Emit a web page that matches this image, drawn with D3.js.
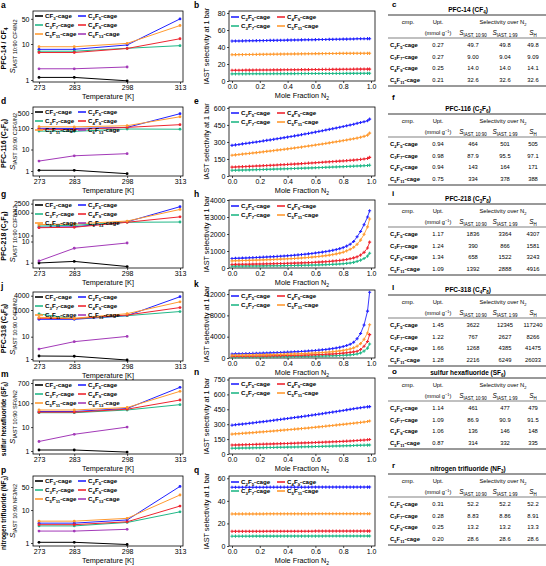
<!DOCTYPE html>
<html><head><meta charset="utf-8">
<script src="https://cdn.jsdelivr.net/npm/d3@7"></script>
<style>body{margin:0;background:#fff}svg{display:block}</style>
</head><body><svg id="c" width="546" height="566"></svg>
<script>
// ---------------- DATA ----------------
const temps = [273, 283, 298, 313];
const cageNames = ["CF_{3}-cage","C_{2}F_{5}-cage","C_{3}F_{7}-cage","C_{4}F_{9}-cage","C_{5}F_{11}-cage","C_{6}F_{13}-cage"];
const cageColors = ["#000000","#2222ff","#22b888","#ee2630","#ff9a30","#a33ab8"];

// temperature-dependent selectivity (order: CF3, C2F5, C3F7, C4F9, C5F11, C6F13)
const pfc14_CF3 = [1.18, 1.18, 0.95];
const pfc14_C2F5 = [7.1, 7.1, 9.4, 49.7];
const pfc14_C3F7 = [6.3, 6.3, 7.6, 9.00];
const pfc14_C4F9 = [5.8, 5.8, 7.5, 14.0];
const pfc14_C5F11 = [8.4, 8.4, 10.4, 32.6];
const pfc14_C6F13 = [2.05, 2.05, 2.3];

const pfc116_CF3 = [1.08, 1.08, 0.75];
const pfc116_C2F5 = [97, 95, 107, 464];
const pfc116_C3F7 = [72, 70, 90, 87.9];
const pfc116_C4F9 = [87, 85, 107, 143];
const pfc116_C5F11 = [115, 113, 128, 334];
const pfc116_C6F13 = [2.9, 5.1, 6.4];

const pfc218_CF3 = [0.97, 1.15, 0.66];
const pfc218_C2F5 = [230, 240, 400, 1836];
const pfc218_C3F7 = [260, 280, 380, 390];
const pfc218_C4F9 = [220, 230, 380, 658];
const pfc218_C5F11 = [300, 320, 430, 1392];
const pfc218_C6F13 = [1.2, 4.8, 8.5];

const pfc318_CF3 = [1.36, 1.33, 0.9];
const pfc318_C2F5 = [200, 200, 375, 3622];
const pfc318_C3F7 = [500, 220, 375, 767];
const pfc318_C4F9 = [240, 225, 420, 1268];
const pfc318_C5F11 = [283, 240, 530, 2216];
const pfc318_C6F13 = [2.8, 6.0, 10.5];

const sf6_CF3 = [1.1, 1.1, 0.9];
const sf6_C2F5 = [45, 45, 60, 461];
const sf6_C3F7 = [40, 40, 52, 86.9];
const sf6_C4F9 = [42, 42, 56, 136];
const sf6_C5F11 = [52, 52, 66, 314];
const sf6_C6F13 = [2.5, 5.0, 10.0];

const nf3_CF3 = [1.05, 1.05, 0.9];
const nf3_C2F5 = [4.0, 4.0, 5.0, 52.2];
const nf3_C3F7 = [3.3, 3.3, 4.2, 8.83];
const nf3_C4F9 = [3.6, 3.6, 4.4, 13.2];
const nf3_C5F11 = [4.6, 4.6, 5.6, 28.6];
const nf3_C6F13 = [2.3, 2.3, 2.6];

// IAST selectivity vs mole fraction N2 (order: C2F5, C3F7, C4F9, C5F11)
const moleFractionN2 = [0,0.025,0.05,0.075,0.1,0.125,0.15,0.175,0.2,0.225,
  0.25,0.275,0.3,0.325,0.35,0.375,0.4,0.425,0.45,0.475,
  0.5,0.525,0.55,0.575,0.6,0.625,0.65,0.675,0.7,0.725,
  0.75,0.775,0.8,0.825,0.85,0.875,0.9,0.925,0.95,0.975,0.99];

const iast14_C2F5 = [47.0,47.1,47.1,47.2,47.3,47.4,47.4,47.5,47.6,47.6,
  47.7,47.8,47.8,47.9,48.0,48.0,48.1,48.2,48.3,48.3,
  48.4,48.5,48.5,48.6,48.7,48.8,48.8,48.9,49.0,49.0,
  49.1,49.2,49.3,49.3,49.4,49.5,49.7,49.7,49.7,49.8,49.8];
const iast14_C3F7 = [8.40,8.42,8.43,8.45,8.47,8.48,8.50,8.52,8.53,8.55,
  8.57,8.58,8.60,8.62,8.63,8.65,8.67,8.68,8.70,8.72,
  8.73,8.75,8.77,8.78,8.80,8.82,8.83,8.85,8.87,8.88,
  8.90,8.92,8.93,8.95,8.97,8.98,9.00,9.01,9.02,9.03,9.04];
const iast14_C4F9 = [12.6,12.6,12.7,12.7,12.8,12.8,12.8,12.9,12.9,12.9,
  13.0,13.0,13.1,13.1,13.1,13.2,13.2,13.2,13.3,13.3,
  13.4,13.4,13.4,13.5,13.5,13.5,13.6,13.6,13.6,13.7,
  13.7,13.7,13.8,13.8,13.8,13.9,14.0,14.0,14.0,14.0,14.0];
const iast14_C5F11 = [31.0,31.0,31.1,31.1,31.2,31.2,31.3,31.3,31.4,31.4,
  31.5,31.5,31.6,31.6,31.7,31.7,31.8,31.8,31.9,31.9,
  32.0,32.0,32.1,32.1,32.2,32.2,32.3,32.3,32.4,32.4,
  32.4,32.5,32.5,32.5,32.6,32.6,32.6,32.6,32.6,32.6,32.6];

const iast116_C2F5 = [270,274,278,283,287,291,296,300,304,309,
  314,318,323,328,333,338,343,348,353,358,
  364,370,375,381,387,393,399,405,411,417,
  423,430,436,443,449,456,464,471,478,487,501];
const iast116_C3F7 = [50.0,50.8,51.6,52.4,53.2,54.1,54.9,55.8,56.7,57.6,
  58.5,59.5,60.4,61.4,62.3,63.3,64.3,65.4,66.4,67.5,
  68.5,69.6,70.7,71.8,72.9,74.1,75.3,76.5,77.6,78.9,
  80.1,81.4,82.6,83.9,85.3,86.6,87.9,89.3,90.8,92.6,95.5];
const iast116_C4F9 = [78,79,81,82,83,85,86,88,89,91,
  92,94,95,97,99,100,102,104,105,107,
  109,111,113,115,117,119,121,123,125,127,
  129,131,133,135,138,140,143,146,150,155,164];
const iast116_C5F11 = [183,186,189,193,196,199,203,206,209,213,
  217,220,224,228,231,235,239,243,247,251,
  255,260,264,268,273,278,282,287,292,297,
  302,307,312,317,323,328,334,341,349,360,378];

const iast218_C2F5 = [560,567,575,582,590,598,607,616,625,636,
  647,658,670,682,694,707,720,736,752,770,
  790,810,832,855,880,907,935,965,1000,1040,
  1085,1140,1200,1290,1400,1560,1836,2150,2550,3000,3364];
const iast218_C3F7 = [110,111,113,114,116,117,119,121,123,125,
  127,129,132,134,137,140,143,146,149,153,
  157,161,166,171,176,182,189,196,204,214,
  225,238,253,272,296,330,390,460,560,700,866];
const iast218_C4F9 = [210,213,216,219,222,225,229,233,237,241,
  245,249,254,259,264,269,275,281,287,294,
  301,309,317,326,336,347,359,372,387,404,
  423,445,470,503,545,595,658,760,920,1180,1522];
const iast218_C5F11 = [420,425,431,437,443,449,456,463,470,478,
  486,494,503,512,521,531,541,552,564,577,
  591,606,622,640,659,680,703,728,756,790,
  830,875,930,1010,1100,1220,1392,1640,1980,2420,2888];

const iast318_C2F5 = [760,775,790,806,822,839,857,876,896,917,
  939,962,986,1011,1037,1064,1093,1123,1155,1190,
  1228,1268,1311,1358,1410,1467,1530,1600,1680,1770,
  1875,2000,2150,2340,2580,2950,3622,4600,6200,8800,12345];
const iast318_C3F7 = [170,174,178,182,186,190,195,200,205,210,
  216,222,228,234,241,248,256,264,273,282,
  292,303,314,326,339,353,368,385,404,425,
  449,476,507,543,585,650,767,950,1300,1850,2627];
const iast318_C4F9 = [320,327,334,341,348,356,364,373,382,391,
  401,411,422,433,445,457,470,484,499,515,
  532,550,570,591,614,639,666,696,729,766,
  808,856,912,980,1060,1150,1268,1600,2200,3100,4385];
const iast318_C5F11 = [500,510,520,531,542,553,565,578,591,605,
  620,635,651,668,686,705,725,746,769,793,
  819,847,877,910,946,985,1028,1075,1127,1186,
  1255,1335,1430,1550,1700,1900,2216,2700,3500,4700,6249];

const iastSF6_C2F5 = [290,294,298,301,305,309,313,318,322,326,
  330,335,339,344,348,353,357,362,367,371,
  376,381,386,391,396,401,406,412,417,422,
  427,433,438,444,449,455,461,466,471,475,477];
const iastSF6_C3F7 = [58.0,58.6,59.3,59.9,60.5,61.2,61.9,62.5,63.2,63.9,
  64.6,65.3,66.0,66.7,67.5,68.2,69.0,69.7,70.5,71.3,
  72.0,72.8,73.6,74.4,75.2,76.1,76.9,77.8,78.7,79.6,
  80.5,81.4,82.3,83.2,84.1,85.5,86.9,87.9,88.9,89.9,90.9];
const iastSF6_C4F9 = [90,91,92,93,94,95,96,97,98,99,
  100,101,102,103,104,105,106,107,108,110,
  111,112,113,114,116,117,118,120,121,123,
  124,126,127,129,131,133,136,138,140,143,146];
const iastSF6_C5F11 = [200,203,205,208,210,213,215,218,221,223,
  226,229,232,235,238,241,244,247,250,253,
  256,259,262,266,269,273,276,280,284,287,
  291,295,298,302,306,310,314,318,322,327,332];

const iastNF3_C2F5 = [52.0,52.0,52.0,52.0,52.0,52.0,52.0,52.0,52.0,52.0,
  52.1,52.1,52.1,52.1,52.1,52.1,52.1,52.1,52.1,52.1,
  52.1,52.1,52.1,52.2,52.2,52.2,52.2,52.2,52.2,52.2,
  52.2,52.2,52.2,52.2,52.2,52.2,52.2,52.2,52.2,52.2,52.2];
const iastNF3_C3F7 = [8.70,8.70,8.71,8.71,8.72,8.72,8.73,8.73,8.74,8.74,
  8.75,8.75,8.76,8.76,8.77,8.77,8.78,8.78,8.79,8.79,
  8.79,8.80,8.80,8.80,8.81,8.81,8.81,8.82,8.82,8.82,
  8.83,8.83,8.83,8.83,8.83,8.83,8.83,8.84,8.85,8.85,8.86];
const iastNF3_C4F9 = [13.0,13.0,13.0,13.0,13.0,13.0,13.0,13.0,13.0,13.0,
  13.1,13.1,13.1,13.1,13.1,13.1,13.1,13.1,13.1,13.1,
  13.1,13.1,13.1,13.1,13.2,13.2,13.2,13.2,13.2,13.2,
  13.2,13.2,13.2,13.2,13.2,13.2,13.2,13.2,13.2,13.2,13.2];
const iastNF3_C5F11 = [28.4,28.4,28.4,28.4,28.4,28.4,28.4,28.4,28.4,28.4,
  28.5,28.5,28.5,28.5,28.5,28.5,28.5,28.5,28.5,28.5,
  28.5,28.5,28.5,28.5,28.6,28.6,28.6,28.6,28.6,28.6,
  28.6,28.6,28.6,28.6,28.6,28.6,28.6,28.6,28.6,28.6,28.6];

// tables
const tableCages = ["C_{2}F_{5}-cage","C_{3}F_{7}-cage","C_{4}F_{9}-cage","C_{5}F_{11}-cage"];
const tblPFC14 = {upt:["0.27","0.27","0.25","0.21"], s1090:["49.7","9.00","14.0","32.6"], s199:["49.8","9.04","14.0","32.6"], sh:["49.8","9.09","14.1","32.6"]};
const tblPFC116 = {upt:["0.94","0.98","0.94","0.75"], s1090:["464","87.9","143","334"], s199:["501","95.5","164","378"], sh:["505","97.1","171","388"]};
const tblPFC218 = {upt:["1.17","1.24","1.34","1.09"], s1090:["1836","390","658","1392"], s199:["3364","866","1522","2888"], sh:["4307","1581","3243","4916"]};
const tblPFC318 = {upt:["1.45","1.22","1.66","1.28"], s1090:["3622","767","1268","2216"], s199:["12345","2627","4385","6249"], sh:["117240","8266","41475","26033"]};
const tblSF6 = {upt:["1.14","1.09","1.06","0.87"], s1090:["461","86.9","136","314"], s199:["477","90.9","146","332"], sh:["479","91.5","148","335"]};
const tblNF3 = {upt:["0.31","0.28","0.25","0.20"], s1090:["52.2","8.83","13.2","28.6"], s199:["52.2","8.86","13.2","28.6"], sh:["52.2","8.91","13.3","28.6"]};

// ---------------- DRAW ----------------
const FONT = "'Liberation Sans', Arial, Helvetica, sans-serif";
const svg = d3.select("#c").attr("font-family", FONT);

function rich(sel, str, fs) {
  const parts = str.split(/(_\{[^}]*\}|\^\{[^}]*\}|\*[^*]*\*)/).filter(s => s !== "");
  let shift = 0;
  parts.forEach(p => {
    let t = p, d = 0, size = fs, ital = false;
    if (p.startsWith("_{")) { t = p.slice(2, -1); d = fs * 0.3; size = fs * 0.7; }
    else if (p.startsWith("^{")) { t = p.slice(2, -1); d = -fs * 0.38; size = fs * 0.7; }
    else if (p.startsWith("*")) { t = p.slice(1, -1); ital = true; }
    const ts = sel.append("tspan").attr("dy", (d - shift).toFixed(2)).attr("font-size", size).text(t);
    if (ital) ts.attr("font-style", "italic");
    shift = d;
  });
  return sel;
}
function txt(x, y, str, fs, opts = {}) {
  const t = svg.append("text").attr("x", x).attr("y", y)
    .attr("text-anchor", opts.anchor || "start")
    .attr("font-weight", opts.bold ? "bold" : "normal")
    .attr("fill", opts.fill || "#000");
  if (opts.rotate) t.attr("transform", `rotate(-90,${x},${y})`);
  return rich(t, str, fs);
}

function styleAxis(g, fs) {
  g.select(".domain").remove();
  g.selectAll("line").attr("stroke", "#000").attr("stroke-width", 0.7);
  g.selectAll("text").attr("font-size", fs).attr("font-family", FONT).attr("fill", "#000");
}

// ---------- left panels ----------
const leftPanels = [
  {letter:"a", top:11, bottom:82, t1:"PFC-14 / CF_{4}", t1s:7, t2:"IAST 10:90 CF4/N2", yDom:[1,10], yRng:[80,44], ticks:[1,10,50],
   series:[pfc14_CF3,pfc14_C2F5,pfc14_C3F7,pfc14_C4F9,pfc14_C5F11,pfc14_C6F13]},
  {letter:"d", top:107, bottom:176, t1:"PFC-116 (C_{2}F_{6})", t1s:7, t2:"IAST 10:90 C2F6/N2", yDom:[1,500], yRng:[171,113], ticks:[1,10,100,500],
   series:[pfc116_CF3,pfc116_C2F5,pfc116_C3F7,pfc116_C4F9,pfc116_C5F11,pfc116_C6F13]},
  {letter:"g", top:200, bottom:268, t1:"PFC-218 (C_{3}F_{8})", t1s:7, t2:"IAST 10:90 C3F8/N2", yDom:[1,10,100,1000], yRng:[262.7,241.5,235.5,212.7], ticks:[1,10,100,1000,2500],
   series:[pfc218_CF3,pfc218_C2F5,pfc218_C3F7,pfc218_C4F9,pfc218_C5F11,pfc218_C6F13]},
  {letter:"j", top:292, bottom:361, t1:"PFC-318 (C_{4}F_{8})", t1s:7, t2:"IAST 10:90 C4F8/N2", yDom:[1,10,1000,4000], yRng:[359,336.7,310,295.7], ticks:[1,10,1000,4000],
   series:[pfc318_CF3,pfc318_C2F5,pfc318_C3F7,pfc318_C4F9,pfc318_C5F11,pfc318_C6F13]},
  {letter:"m", top:380, bottom:454, t1:"sulfur hexafluoride (SF_{6})", t1s:6.4, t2:"IAST 10:90 SF6/N2", yDom:[1,700], yRng:[451,383], ticks:[1,10,100,700],
   series:[sf6_CF3,sf6_C2F5,sf6_C3F7,sf6_C4F9,sf6_C5F11,sf6_C6F13]},
  {letter:"p", top:476, bottom:546, t1:"nitrogen trifluoride (NF_{3})", t1s:6.4, t2:"IAST 10:90 NF3/N2", yDom:[1,50], yRng:[543,487], ticks:[1,10,50],
   series:[nf3_CF3,nf3_C2F5,nf3_C3F7,nf3_C4F9,nf3_C5F11,nf3_C6F13]}
];
const LX0 = 33, LX1 = 183;
const xT = d3.scaleLinear().domain([273, 313]).range([39, 180]);

leftPanels.forEach(p => {
  const y = d3.scaleLog().domain(p.yDom).range(p.yRng);
  svg.append("rect").attr("x", LX0).attr("y", p.top).attr("width", LX1 - LX0).attr("height", p.bottom - p.top)
    .attr("fill", "none").attr("stroke", "#000").attr("stroke-width", 0.8);
  const gx = svg.append("g").attr("transform", `translate(0,${p.bottom})`)
    .call(d3.axisBottom(xT).tickValues(temps).tickSize(2).tickPadding(1.5).tickFormat(d3.format("d")));
  styleAxis(gx, 7);
  const gy = svg.append("g").attr("transform", `translate(${LX0},0)`)
    .call(d3.axisLeft(y).tickValues(p.ticks).tickSize(2).tickPadding(1.5).tickFormat(d3.format("d")));
  styleAxis(gy, 7);
  txt((LX0 + LX1) / 2, p.bottom + 16.5, "Temperature [K]", 7.3, {anchor:"middle"});
  const cy = (p.top + p.bottom) / 2;
  txt(6, cy + 2, p.t1, p.t1s, {anchor:"middle", bold:true, rotate:true});
  txt(15, cy, "*S*_{" + p.t2 + "}", 8, {anchor:"middle", rotate:true});
  txt(1, p.top - 3, p.letter, 8.5, {bold:true});

  const line = d3.line().x((d, i) => xT(temps[i])).y(d => y(d));
  p.series.forEach((s, k) => {
    svg.append("path").attr("d", line(s)).attr("fill", "none").attr("stroke", cageColors[k]).attr("stroke-width", 1);
    svg.append("g").selectAll("circle").data(s).join("circle")
      .attr("cx", (d, i) => xT(temps[i])).attr("cy", d => y(d)).attr("r", 1.4).attr("fill", cageColors[k]);
  });
  // legend
  cageNames.forEach((n, k) => {
    const col = k % 2, row = Math.floor(k / 2);
    const lx = col === 0 ? 35 : 78, ly = p.top + 5 + row * 9;
    svg.append("line").attr("x1", lx).attr("x2", lx + 8).attr("y1", ly).attr("y2", ly)
      .attr("stroke", cageColors[k]).attr("stroke-width", 1.6);
    txt(lx + 10, ly + 2.2, n, 6.2, {bold:true});
  });
});

// ---------- middle panels ----------
const midCols = [1, 2, 3, 4];
const midPanels = [
  {letter:"b", top:11, bottom:81, yMax:82.4, ticks:[0,20,40,60,80], series:[iast14_C2F5,iast14_C3F7,iast14_C4F9,iast14_C5F11]},
  {letter:"e", top:107, bottom:176, yMax:608, ticks:[0,150,300,450,600], series:[iast116_C2F5,iast116_C3F7,iast116_C4F9,iast116_C5F11]},
  {letter:"h", top:200, bottom:268, yMax:4000, ticks:[0,1000,2000,3000,4000], series:[iast218_C2F5,iast218_C3F7,iast218_C4F9,iast218_C5F11]},
  {letter:"k", top:290, bottom:358, yMax:12760, ticks:[0,4000,8000,12000], series:[iast318_C2F5,iast318_C3F7,iast318_C4F9,iast318_C5F11]},
  {letter:"n", top:378, bottom:454, yMax:765, ticks:[0,150,300,450,600,750], series:[iastSF6_C2F5,iastSF6_C3F7,iastSF6_C4F9,iastSF6_C5F11]},
  {letter:"q", top:476, bottom:546, yMax:62, ticks:[0,20,40,60], series:[iastNF3_C2F5,iastNF3_C3F7,iastNF3_C4F9,iastNF3_C5F11]}
];
const MX0 = 229, MX1 = 375;
const xM = d3.scaleLinear().domain([0, 1]).range([232, 371]);
const midLegendOrder = [0, 2, 1, 3]; // C2F5, C4F9 / C3F7, C5F11

midPanels.forEach(p => {
  const y = d3.scaleLinear().domain([0, p.yMax]).range([p.bottom, p.top]);
  svg.append("rect").attr("x", MX0).attr("y", p.top).attr("width", MX1 - MX0).attr("height", p.bottom - p.top)
    .attr("fill", "none").attr("stroke", "#000").attr("stroke-width", 0.8);
  const gx = svg.append("g").attr("transform", `translate(0,${p.bottom})`)
    .call(d3.axisBottom(xM).tickValues([0, 0.2, 0.4, 0.6, 0.8, 1.0]).tickSize(2).tickPadding(1.5).tickFormat(d3.format(".1f")));
  styleAxis(gx, 7);
  const gy = svg.append("g").attr("transform", `translate(${MX0},0)`)
    .call(d3.axisLeft(y).tickValues(p.ticks).tickSize(2).tickPadding(1.5).tickFormat(d3.format("d")));
  styleAxis(gy, 7);
  txt((MX0 + MX1) / 2, p.bottom + 16.5, "Mole Fraction N_{2}", 7.3, {anchor:"middle"});
  txt(209, (p.top + p.bottom) / 2, "IAST selectivity at 1 bar", 7.3, {anchor:"middle", rotate:true});
  txt(194, p.top - 3, p.letter, 8.5, {bold:true});

  const line = d3.line().x((d, i) => xM(moleFractionN2[i])).y(d => y(d));
  p.series.forEach((s, k) => {
    const c = cageColors[midCols[k]];
    svg.append("path").attr("d", line(s)).attr("fill", "none").attr("stroke", c).attr("stroke-width", 0.9);
    svg.append("g").selectAll("path").data(s).join("path")
      .attr("transform", (d, i) => `translate(${xM(moleFractionN2[i])},${y(d)})`)
      .attr("d", d3.symbol(d3.symbolCross, 5.5)()).attr("fill", c);
  });
  midLegendOrder.forEach((k, j) => {
    const col = j % 2, row = Math.floor(j / 2);
    const lx = col === 0 ? 231 : 277, ly = p.top + 6 + row * 9;
    svg.append("line").attr("x1", lx).attr("x2", lx + 8).attr("y1", ly).attr("y2", ly)
      .attr("stroke", cageColors[midCols[k]]).attr("stroke-width", 1.6);
    txt(lx + 10, ly + 2.2, tableCages[k], 6.2, {bold:true});
  });
});

// ---------- tables ----------
const tables = [
  {letter:"c", ly:7, y:10, title:"PFC-14 (CF_{4})", d:tblPFC14},
  {letter:"f", ly:100, y:109, title:"PFC-116  (C_{2}F_{6})", d:tblPFC116},
  {letter:"i", ly:196, y:199, title:"PFC-218 (C_{3}F_{8})", d:tblPFC218},
  {letter:"l", ly:290, y:290, title:"PFC-318 (C_{4}F_{8})", d:tblPFC318},
  {letter:"o", ly:374, y:373, title:"sulfur hexafluoride (SF_{6})", d:tblSF6},
  {letter:"r", ly:468, y:469, title:"nitrogen trifluoride (NF_{3})", d:tblNF3}
];
const TX0 = 388, TX1 = 546;
const colUpt = 438, colS1 = 473, colS2 = 505, colSH = 533;
tables.forEach(t => {
  const y0 = t.y;
  txt(392, t.ly, t.letter, 8, {bold:true});
  txt(468, y0 + 2, t.title, 6.5, {anchor:"middle", bold:true});
  [y0 + 5, y0 + 28, y0 + 76].forEach((ly, i) => {
    svg.append("line").attr("x1", TX0).attr("x2", TX1).attr("y1", ly).attr("y2", ly)
      .attr("stroke", "#000").attr("stroke-width", i === 1 ? 0.5 : 0.8);
  });
  txt(408, y0 + 14, "cmp.", 5.8, {anchor:"middle"});
  txt(colUpt, y0 + 14, "Upt.", 5.8, {anchor:"middle"});
  txt(503, y0 + 14, "Selectivity over N_{2}", 5.8, {anchor:"middle"});
  txt(colUpt, y0 + 25, "(mmol g^{−1})", 5.6, {anchor:"middle"});
  txt(colS1, y0 + 25, "*S*_{IAST, 10:90}", 6.4, {anchor:"middle"});
  txt(colS2, y0 + 25, "*S*_{IAST, 1:99}", 6.4, {anchor:"middle"});
  txt(colSH, y0 + 25, "*S*_{H}", 6.4, {anchor:"middle"});
  tableCages.forEach((n, i) => {
    const ry = y0 + 37 + i * 11.6;
    txt(390, ry, n, 5.9, {bold:true});
    txt(colUpt, ry, t.d.upt[i], 5.8, {anchor:"middle"});
    txt(colS1, ry, t.d.s1090[i], 5.8, {anchor:"middle"});
    txt(colS2, ry, t.d.s199[i], 5.8, {anchor:"middle"});
    txt(colSH, ry, t.d.sh[i], 5.8, {anchor:"middle"});
  });
});
</script></body></html>
